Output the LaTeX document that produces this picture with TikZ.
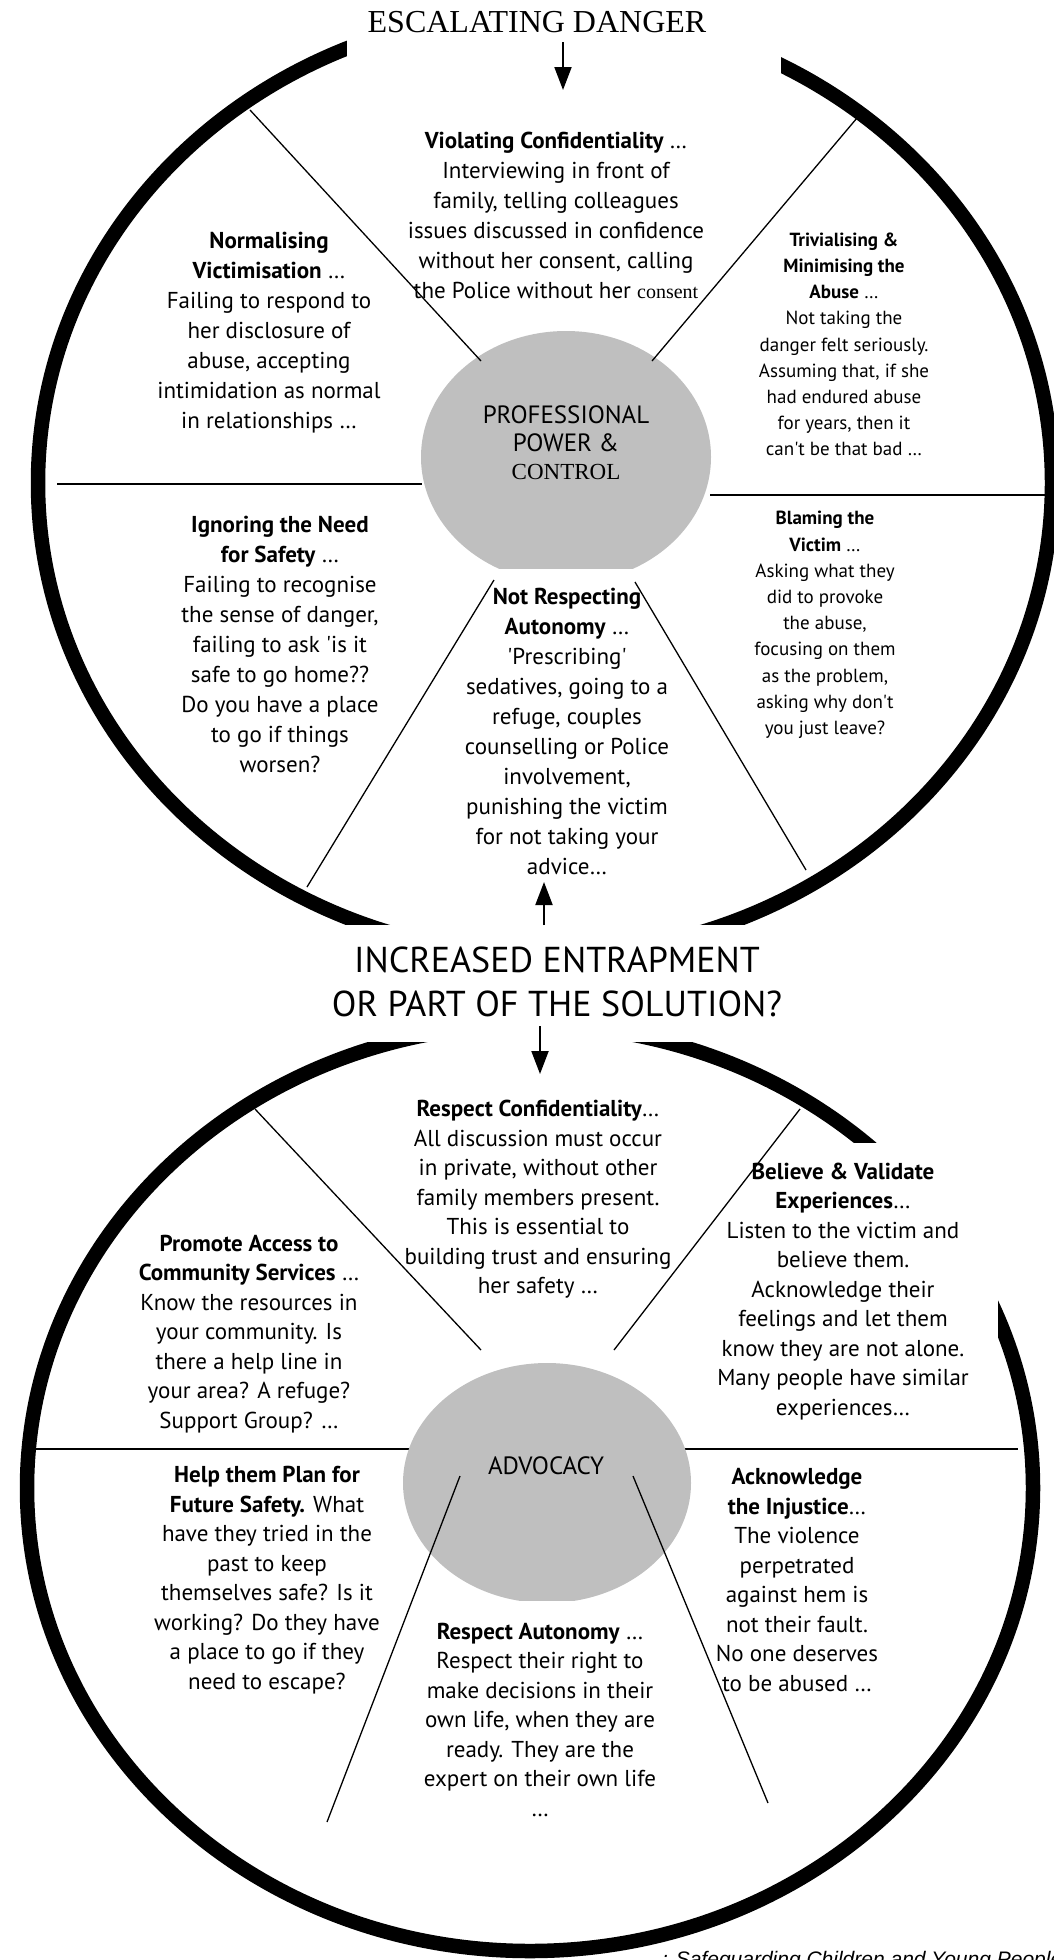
\documentclass[tikz,border=0pt]{standalone}
\usepackage{fontspec}
\usetikzlibrary{arrows.meta}
\newfontfamily\comic{PT Sans}
\newfontfamily\timesf{Liberation Serif}
\newfontfamily\arialf{Liberation Sans}
\definecolor{hubgrey}{RGB}{191,191,191}

\begin{document}
\begin{tikzpicture}[x=1pt, y=-1pt,
    rim/.style={line width=14.5pt},
    spoke/.style={line width=1.3pt},
    divider/.style={line width=2.2pt},
    hub/.style={fill=hubgrey},
    mask/.style={fill=white},
    pointer/.style={line width=2pt, -{Triangle[length=23pt,width=17pt]}},
    blurb/.style={align=center, inner sep=0pt, font=\comic\fontsize{23}{30}\selectfont},
    lowblurb/.style={align=center, inner sep=0pt, font=\comic\fontsize{23}{29.5}\selectfont},
    smallblurb/.style={align=center, inner sep=0pt, font=\comic\fontsize{19}{26.2}\selectfont},
    hubtext/.style={align=center, inner sep=0pt, font=\comic\fontsize{25}{28}\selectfont},
    headline/.style={align=center, inner sep=0pt}]
  \useasboundingbox (0,0) rectangle (1054,1960);
  \node[anchor=base west, inner sep=0pt, font=\arialf\itshape\fontsize{21}{24}\selectfont] (src) at (662,1966)
    {: Safeguarding Children and Young People};

  \draw[rim] (545,483) ellipse [x radius=507pt, y radius=472pt];
  \draw[rim] (530,1488) ellipse [x radius=503pt, y radius=463pt];
  \fill[mask] (347,0) rectangle (781,80);
  \fill[mask] (322,925) rectangle (795,1042);
  \fill[mask] (720,1143) rectangle (998,1420);

  \draw[divider] (57,484) -- (422,484);
  \draw[divider] (710,495) -- (1054,495);
  \draw[divider] (30,1449) -- (422,1449);
  \draw[divider] (672,1449) -- (1018,1449);

  \begin{scope}
    \clip (0,0) rectangle (1054,568);
    \fill[hub] (566,457) ellipse [x radius=145pt, y radius=126pt];
  \end{scope}
  \begin{scope}
    \clip (0,925) rectangle (1054,1600);
    \fill[hub] (547,1483) ellipse [x radius=144pt, y radius=120pt];
  \end{scope}

  \draw[spoke] (250,110) -- (481,361);
  \draw[spoke] (857,118) -- (652,361);
  \draw[spoke] (494,580) -- (307,887);
  \draw[spoke] (635,582) -- (806,870);
  \draw[spoke] (255,1109) -- (481,1350);
  \draw[spoke] (800,1109) -- (614,1350);
  \draw[spoke] (460,1476) -- (327,1822);
  \draw[spoke] (633,1476) -- (768,1803);

  \node[headline, font=\timesf\fontsize{32}{36}\selectfont] (danger) at (537,22.5) {ESCALATING DANGER};
  \node[hubtext] (power) at (566,442.5) {PROFESSIONAL\\POWER \&\\{\timesf\fontsize{23}{28}\selectfont CONTROL}};
  \node[blurb] (breach) at (556,215.5) {{\bfseries Violating Confidentiality} …\\Interviewing in front of\\family, telling colleagues\\issues discussed in confidence\\without her consent, calling\\the Police without her {\timesf\fontsize{20}{30}\selectfont consent}};
  \node[blurb] (normal) at (269,333) {{\bfseries Normalising}\\{\bfseries Victimisation} …\\Failing to respond to\\her disclosure of\\abuse, accepting\\intimidation as normal\\in relationships …};
  \node[smallblurb] (trivial) at (844,344.5) {{\bfseries Trivialising \&}\\{\bfseries Minimising the}\\{\bfseries Abuse} …\\Not taking the\\danger felt seriously.\\Assuming that, if she\\had endured abuse\\for years, then it\\can't be that bad …};
  \node[blurb] (ignore) at (280,644) {{\bfseries Ignoring the Need}\\{\bfseries for Safety} …\\Failing to recognise\\the sense of danger,\\failing to ask 'is it\\safe to go home??\\Do you have a place\\to go if things\\worsen?};
  \node[smallblurb] (blame) at (825,625) {{\bfseries Blaming the}\\{\bfseries Victim} …\\Asking what they\\did to provoke\\the abuse,\\focusing on them\\as the problem,\\asking why don't\\you just leave?};
  \node[blurb] (autonomy) at (567,731.5) {{\bfseries Not Respecting}\\{\bfseries Autonomy} …\\'Prescribing'\\sedatives, going to a\\refuge, couples\\counselling or Police\\involvement,\\punishing the victim\\for not taking your\\advice…};

  \node[headline, font=\comic\fontsize{36}{44}\selectfont] (entrap) at (557,981.5) {INCREASED ENTRAPMENT\\OR PART OF THE SOLUTION?};
  \node[hubtext] (advocacy) at (546,1466) {ADVOCACY};
  \node[lowblurb] (confide) at (538,1199.5) {{\bfseries Respect Confidentiality}…\\All discussion must occur\\in private, without other\\family members present.\\This is essential to\\building trust and ensuring\\her safety …};
  \node[lowblurb] (access) at (249,1334) {{\bfseries Promote Access to}\\{\bfseries Community Services} …\\Know the resources in\\your community. Is\\there a help line in\\your area? A refuge?\\Support Group? …};
  \node[lowblurb] (believe) at (843,1291.5) {{\bfseries Believe \& Validate}\\{\bfseries Experiences}…\\Listen to the victim and\\believe them.\\Acknowledge their\\feelings and let them\\know they are not alone.\\Many people have similar\\experiences…};
  \node[lowblurb] (plan) at (267,1580) {{\bfseries Help them Plan for}\\{\bfseries Future Safety.} What\\have they tried in the\\past to keep\\themselves safe? Is it\\working? Do they have\\a place to go if they\\need to escape?};
  \node[lowblurb] (injustice) at (797,1580) {{\bfseries Acknowledge}\\{\bfseries the Injustice}…\\The violence\\perpetrated\\against hem is\\not their fault.\\No one deserves\\to be abused …};
  \node[lowblurb] (respect) at (540,1719.5) {{\bfseries Respect Autonomy} …\\Respect their right to\\make decisions in their\\own life, when they are\\ready. They are the\\expert on their own life\\…};

  \coordinate (d0) at (563,42);
  \coordinate (d1) at (563,90);
  \coordinate (u0) at (544,925);
  \coordinate (u1) at (544,882);
  \coordinate (e0) at (540,1026);
  \coordinate (e1) at (540,1074);
  \draw[pointer] (d0) -- (d1);
  \draw[pointer] (u0) -- (u1);
  \draw[pointer] (e0) -- (e1);
\end{tikzpicture}
\end{document}
